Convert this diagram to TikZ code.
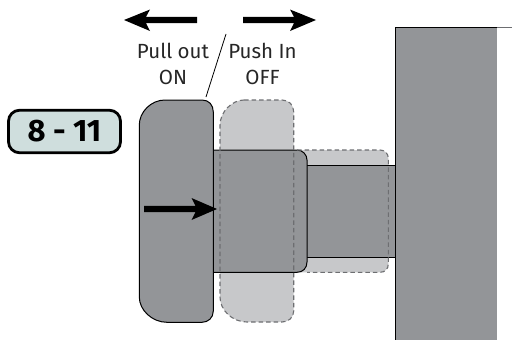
\documentclass[tikz,border=0pt]{standalone}
\usepackage{fontspec}
\setmainfont{Fira Sans}
\definecolor{dark}{HTML}{939598}
\definecolor{ghost}{HTML}{C7C8CA}
\definecolor{dashc}{HTML}{6D6E71}
\definecolor{badge}{HTML}{CFDEDD}
\begin{document}
\begin{tikzpicture}[x=1pt,y=-1pt,
  ghostfill/.style={fill=ghost,draw=none},
  ghostdash/.style={draw=dashc,line width=1.1pt,dash pattern=on 4.5pt off 3pt},
  darkpart/.style={fill=dark,draw=none},
  outline/.style={draw=black,line width=1pt},
  label/.style={font=\fontsize{20.5}{26}\selectfont,text=black!85,align=center,inner sep=0pt},
  bigarrow/.style={fill=black,draw=none}]
\useasboundingbox (0,0) rectangle (512,340);
% ghost (pushed-in) position
\path[ghostfill] (244,100) -- (282,100) .. controls (289,100) and (293.7,105) .. (293.7,112) -- (293.7,311) .. controls (293.7,318) and (288,322) .. (282,322) -- (247,322) .. controls (232,322) and (220,310) .. (220,297) -- (220,125) .. controls (220,112) and (232,100) .. (244,100) -- cycle;
\path[ghostfill,rounded corners=8pt] (290,150) -- (388.3,150) -- (388.3,272.3) -- (290,272.3) -- cycle;
% wall
\path[darkpart] (395,27.5) rectangle (497,340);
\draw[outline] (395,340) -- (395,27.5) -- (497,27.5);
\draw[draw=dashc,line width=.7pt] (497,27.5) -- (512,27.5);
% shaft
\path[darkpart] (300,165.3) rectangle (395,257);
\draw[outline] (300,165.3) -- (395,165.3);
\draw[outline] (300,257) -- (395,257);
% sleeve
\path[darkpart] (213,150) -- (297,150) .. controls (303,150) and (307,155) .. (307,160) -- (307,262) .. controls (307,268) and (303,272.3) .. (297,272.3) -- (213,272.3) -- cycle;
\draw[outline] (213,150) -- (297,150) .. controls (303,150) and (307,155) .. (307,160) -- (307,262) .. controls (307,268) and (303,272.3) .. (297,272.3) -- (213,272.3);
% knob
\path[darkpart,outline] (165,100) -- (202,100) .. controls (209,100) and (213.3,105) .. (213.3,112) -- (213.3,311) .. controls (213.3,318) and (208,322.3) .. (202,322.3) -- (167,322.3) .. controls (152,322.3) and (139.3,310) .. (139.3,297) -- (139.3,125) .. controls (139.3,112) and (151,100) .. (165,100) -- cycle;
% ghost dashes on top
\path[ghostdash] (244,100) -- (282,100) .. controls (289,100) and (293.7,105) .. (293.7,112) -- (293.7,311) .. controls (293.7,318) and (288,322) .. (282,322) -- (247,322) .. controls (232,322) and (220,310) .. (220,297) -- (220,125) .. controls (220,112) and (232,100) .. (244,100) -- cycle;
\path[ghostdash] (297,150) -- (380,150) .. controls (385,150) and (388.3,154) .. (388.3,158) -- (388.3,264) .. controls (388.3,269) and (385,272.3) .. (380,272.3) -- (307,272.3);
% arrows
\path[bigarrow] (124,20) -- (150,9.5) -- (146,16.8) -- (197,16.8) -- (197,23.2) -- (146,23.2) -- (150,31) -- cycle;
\path[bigarrow] (316,20) -- (290,9.5) -- (294,16.8) -- (243,16.8) -- (243,23.2) -- (294,23.2) -- (290,31) -- cycle;
\path[bigarrow] (217,209) -- (191.5,198) -- (195.5,205.8) -- (144,205.8) -- (144,212.2) -- (195.5,212.2) -- (191.5,220) -- cycle;
% divider
\draw[black,line width=.8pt] (206,97) -- (226,34);
% labels
\node[label] (pull) at (173,64.3) {Pull out\\ON};
\node[label] (push) at (262.5,64.3) {Push In\\OFF};
% badge
\node[draw=black,line width=2.8pt,fill=badge,rounded corners=11pt,minimum width=112pt,minimum height=42.5pt,inner sep=0pt,font=\fontsize{31}{34}\selectfont\bfseries] (num) at (64.5,131.5) {8 - 11};
\end{tikzpicture}
\end{document}
